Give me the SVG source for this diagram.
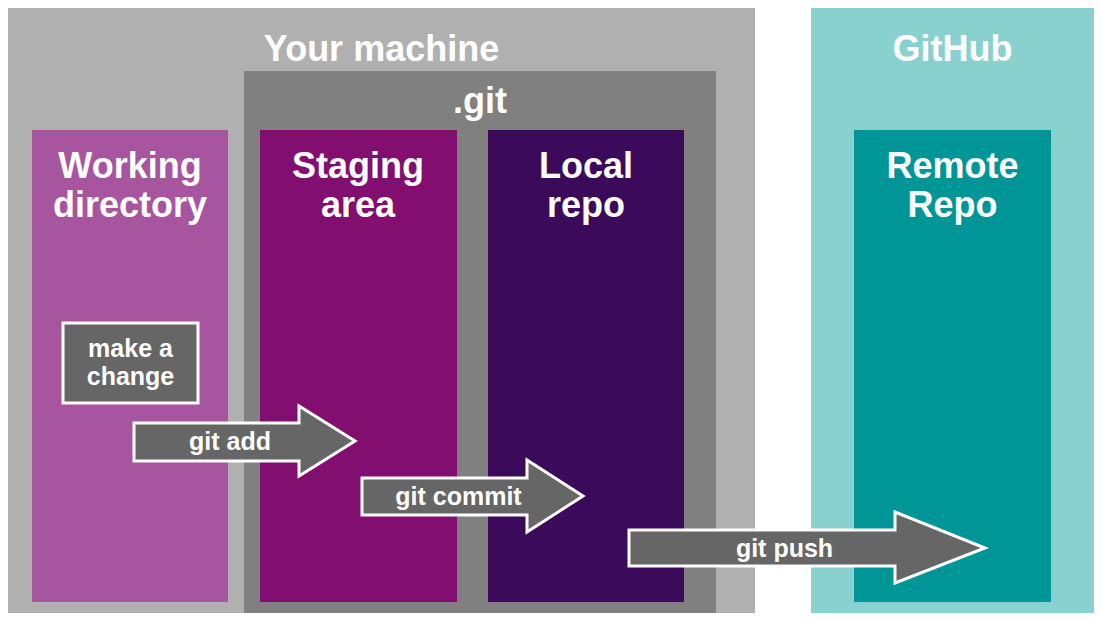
<svg xmlns="http://www.w3.org/2000/svg" width="1102" height="620" viewBox="0 0 1102 620">
<style>
text{font-family:"Liberation Sans",Arial,sans-serif;font-weight:bold;fill:#ffffff;text-anchor:middle}
.big{font-size:36px}
.small{font-size:25px}
.arrow{fill:#666666;stroke:#ffffff;stroke-width:3;stroke-linejoin:miter}
</style>
<rect width="1102" height="620" fill="#ffffff"/>
<g id="machine">
<rect x="8" y="8" width="747" height="605" fill="#b0b0b0"/>
<text class="big" x="381.5" y="61">Your machine</text>
</g>
<g id="dotgit">
<rect x="244" y="71" width="472" height="542" fill="#808080"/>
<text class="big" x="480" y="113">.git</text>
</g>
<g id="github">
<rect x="811" y="8" width="283" height="605" fill="#88d1cf"/>
<text class="big" x="952.5" y="61">GitHub</text>
</g>
<g id="working">
<rect x="32" y="130" width="196" height="472" fill="#a855a0"/>
<text class="big" x="130" y="178">Working</text>
<text class="big" x="130" y="217">directory</text>
</g>
<g id="staging">
<rect x="260" y="130" width="197" height="472" fill="#820e6f"/>
<text class="big" x="358" y="178">Staging</text>
<text class="big" x="358" y="217">area</text>
</g>
<g id="local">
<rect x="488" y="130" width="196" height="472" fill="#3b0a5a"/>
<text class="big" x="586" y="178">Local</text>
<text class="big" x="586" y="217">repo</text>
</g>
<g id="remote">
<rect x="854" y="130" width="197" height="472" fill="#009698"/>
<text class="big" x="952.5" y="178">Remote</text>
<text class="big" x="952.5" y="217">Repo</text>
</g>
<g id="change">
<rect x="63" y="323" width="135" height="80" fill="#666666" stroke="#ffffff" stroke-width="3"/>
<text class="small" x="130.5" y="357">make a</text>
<text class="small" x="130.5" y="385">change</text>
</g>
<g id="connectors">
<g id="git-add">
<polygon class="arrow" points="134,423 299,423 299,406 355,441 299,476 299,461 134,461"/>
<text class="small" x="230" y="450">git add</text>
</g>
<g id="git-commit">
<polygon class="arrow" points="362,478 527,478 527,460 583,496 527,532 527,515 362,515"/>
<text class="small" x="458.5" y="505">git commit</text>
</g>
<g id="git-push">
<polygon class="arrow" points="629,530 895,530 895,512 985,548 895,583 895,566 629,566"/>
<text class="small" x="784.5" y="557">git push</text>
</g>
</g>
</svg>
